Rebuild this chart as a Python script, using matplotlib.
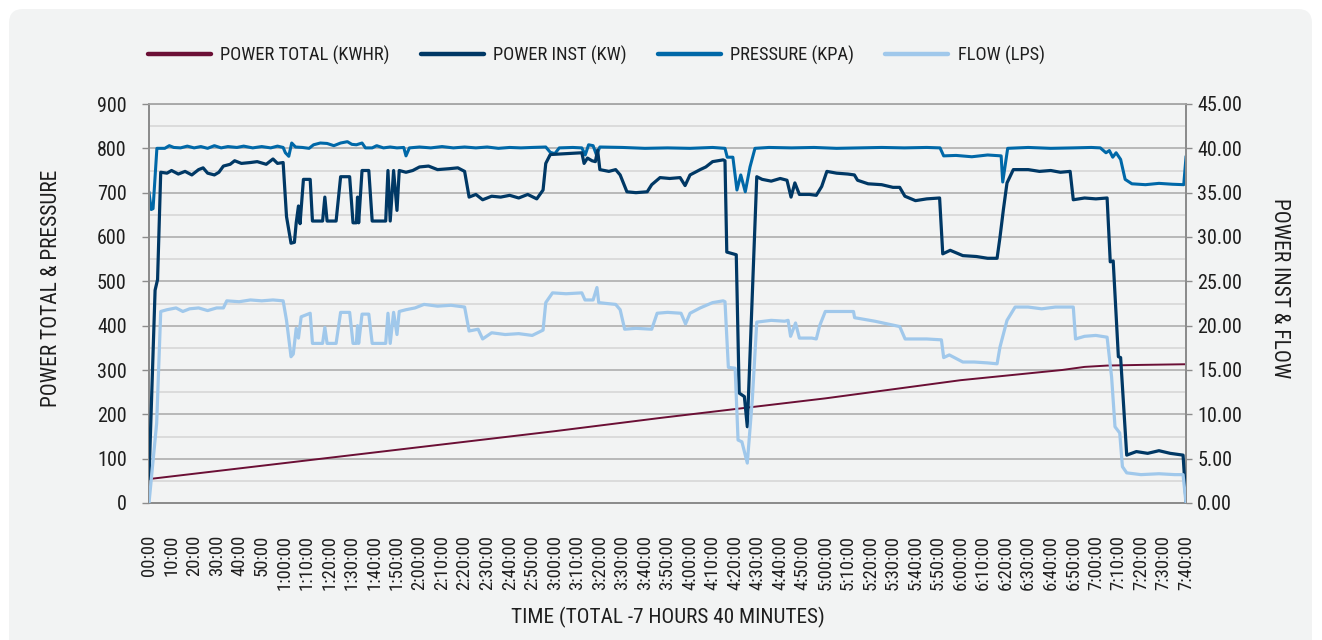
import numpy as np
import matplotlib
matplotlib.use("Agg")
import matplotlib.pyplot as plt
from matplotlib import font_manager
from matplotlib.patches import FancyBboxPatch
from matplotlib.lines import Line2D
from matplotlib.transforms import IdentityTransform

# pick a condensed face if one is installed
names = {f.name for f in font_manager.fontManager.ttflist}
FONT = "DejaVu Sans"
for cand in ["Roboto Condensed", "Liberation Sans Narrow", "Open Sans Condensed"]:
    if cand in names:
        FONT = cand
        break
plt.rcParams["font.family"] = [FONT, "DejaVu Sans"]
if FONT == "DejaVu Sans":
    plt.rcParams["font.stretch"] = "condensed"

TXT = "#1e1e1e"

# ---- data (time in minutes from start) ----
time_ticks = list(range(0, 461, 10))
time_labels = ["00:00", "10:00", "20:00", "30:00", "40:00", "50:00",
               "1:00:00", "1:10:00", "1:20:00", "1:30:00", "1:40:00", "1:50:00",
               "2:00:00", "2:10:00", "2:20:00", "2:30:00", "2:40:00", "2:50:00",
               "3:00:00", "3:10:00", "3:20:00", "3:30:00", "3:40:00", "3:50:00",
               "4:00:00", "4:10:00", "4:20:00", "4:30:00", "4:40:00", "4:50:00",
               "5:00:00", "5:10:00", "5:20:00", "5:30:00", "5:40:00", "5:50:00",
               "6:00:00", "6:10:00", "6:20:00", "6:30:00", "6:40:00", "6:50:00",
               "7:00:00", "7:10:00", "7:20:00", "7:30:00", "7:40:00"]

# power total (kWh), left axis
power_total = [(0, 54), (60, 90), (120, 126), (180, 162), (227, 192), (300, 236),
               (360, 277), (405, 300), (415, 307), (425, 310), (440, 311.5), (460, 313)]

# pressure (kPa), left axis
pressure = [(0, 700), (1.0, 662), (1.8, 664), (3.5, 800), (7, 800), (9, 806), (11, 802),
            (14, 801), (17, 805), (20, 801), (23, 804), (26, 800), (29, 806), (32, 801),
            (35, 804), (39, 802), (42, 805), (46, 801), (50, 804), (54, 801), (57, 805),
            (59.5, 802), (60.5, 790), (62, 782), (63.3, 812), (65, 803), (68, 802), (71, 800),
            (73, 808), (76, 812), (79, 811), (82, 806), (85, 812), (88, 815), (90, 809),
            (92, 808), (94.5, 812), (96, 801), (99, 801), (101, 806), (104, 801), (107, 803),
            (110, 801), (113, 802), (114, 783), (115.5, 801), (120, 803), (125, 801),
            (130, 804), (135, 801), (140, 803), (145, 801), (150, 803), (155, 800),
            (160, 802), (165, 801), (170, 802), (176, 803), (178, 791), (180, 788),
            (182, 801), (188, 802), (192, 801), (193.5, 785), (195, 808), (197, 806),
            (198.5, 785), (200, 803), (210, 802), (220, 800), (230, 801), (240, 800),
            (250, 802), (255.5, 800), (256.5, 780), (259, 780), (260.8, 706), (262.5, 740),
            (264.5, 702), (266.6, 758), (268.8, 800), (275, 802), (285, 801), (295, 802),
            (305, 800), (315, 801), (325, 802), (335, 801), (345, 802), (350.9, 801),
            (352.5, 783), (358, 784), (365, 781), (372, 785), (378, 783), (378.7, 724),
            (380.9, 800), (390, 802), (400, 800), (410, 801), (418, 802), (422, 801),
            (424.5, 790), (426, 795), (427.5, 780), (429, 790), (431, 775), (433, 730),
            (436, 720), (442, 718), (448, 721), (454, 719), (459, 718), (460, 780)]

# power inst (kW), right axis
power_inst = [(0, 2.75), (2.7, 24.0), (3.8, 25.2), (5.2, 37.3), (8, 37.2), (10, 37.5),
              (13, 37.1), (16, 37.4), (19, 37.0), (22, 37.6), (24, 37.8), (26, 37.2),
              (29, 37.0), (31, 37.3), (33, 38.0), (36, 38.2), (38, 38.6), (41, 38.3),
              (45, 38.4), (48, 38.5), (52, 38.2), (55, 38.8), (57, 38.3), (59.5, 38.4),
              (61, 32.3), (63, 29.3), (64.5, 29.4), (65.3, 31.6), (66.3, 33.5), (67, 31.5),
              (68.5, 36.5), (71.5, 36.5), (72.5, 31.8), (77, 31.8), (78, 34.5), (79, 31.8),
              (83, 31.8), (85, 36.8), (89, 36.8), (90.5, 31.6), (92, 31.6), (92.5, 34.5),
              (93, 31.6), (94.5, 37.5), (97.5, 37.5), (99, 31.8), (105, 31.8), (106, 37.5),
              (107, 31.8), (108.5, 37.5), (110, 33.0), (111, 37.5), (114, 37.3), (117, 37.5),
              (120, 37.9), (124, 38.0), (128, 37.6), (133, 37.7), (137, 37.8), (140, 37.4),
              (142, 34.5), (145, 34.8), (148, 34.2), (152, 34.6), (156, 34.5), (160, 34.7),
              (164, 34.4), (168, 34.8), (172, 34.3), (174.8, 35.3), (176, 38.3), (178, 39.3),
              (185, 39.4), (192, 39.5), (193, 38.3), (194.5, 38.9), (196.5, 38.6), (198, 38.5),
              (199, 39.8), (200, 37.6), (204, 37.4), (207, 37.6), (209, 37.0), (212, 35.1),
              (216, 35.0), (221, 35.1), (223, 35.9), (226.7, 36.7), (231, 36.6), (235.6, 36.7),
              (237.8, 35.8), (240, 37.0), (244.5, 37.6), (247, 37.9), (250, 38.5),
              (254.7, 38.7), (255.5, 38.6), (256.3, 28.3), (260.5, 28.0), (261.8, 12.4),
              (264.1, 12.0), (265.4, 8.6), (269.6, 36.8), (272, 36.5), (276, 36.3), (280, 36.6),
              (283, 36.4), (284.8, 34.5), (286.5, 36.1), (288.5, 34.8), (293, 34.8), (296, 34.7),
              (298.4, 35.7), (300.7, 37.4), (305, 37.2), (310, 37.1), (312.9, 37.0),
              (314.3, 36.4), (319, 36.0), (325, 35.9), (330, 35.6), (333, 35.6), (335.3, 34.6),
              (340, 34.1), (345, 34.3), (350.7, 34.4), (352.1, 28.1), (355.4, 28.5),
              (361, 27.9), (367, 27.8), (372, 27.6), (376.2, 27.6), (377.5, 30.0), (379, 33.1),
              (380.6, 36.1), (383.4, 37.6), (390, 37.6), (395, 37.4), (400, 37.5), (404.3, 37.3),
              (408.6, 37.4), (410, 34.2), (415, 34.4), (420, 34.3), (425, 34.4),
              (426.4, 27.2), (427.7, 27.3), (430, 16.5), (431, 16.4), (433.7, 5.4), (438, 5.8),
              (443, 5.6), (448, 5.9), (453, 5.6), (458.7, 5.4), (460, 0.2)]

# flow (LPS), right axis
flow = [(0, 0.0), (3.4, 9.0), (5.2, 21.6), (8, 21.8), (12, 22.0), (15, 21.6), (18, 21.9),
        (22, 22.0), (26, 21.7), (30, 22.0), (33, 22.0), (34.5, 22.8), (40, 22.7), (45, 22.9),
        (50, 22.8), (55, 22.9), (59.5, 22.8), (61, 20.6), (63, 16.5), (64, 16.8),
        (65.3, 19.7), (66.3, 18.6), (67.5, 21.0), (71.5, 21.4), (72.5, 18.0), (77, 18.0),
        (78, 19.8), (79, 18.0), (83, 18.0), (85, 21.5), (89, 21.5), (90.5, 18.0), (92, 18.0),
        (92.5, 20.0), (93, 18.0), (94.5, 21.3), (97.5, 21.3), (99, 18.0), (105, 18.0),
        (106, 21.4), (107, 18.0), (108.5, 21.5), (110, 19.0), (111, 21.6), (114, 21.8),
        (118, 22.0), (122, 22.4), (128, 22.2), (134, 22.3), (140, 22.1), (142, 19.4),
        (146, 19.6), (148, 18.5), (152, 19.2), (158, 19.0), (164, 19.1), (170, 18.9),
        (174, 19.4), (174.8, 19.5), (176, 22.6), (179, 23.7), (185, 23.6), (192, 23.7),
        (193.4, 22.9), (197, 22.9), (198.7, 24.3), (199.5, 22.6), (203, 22.5), (207, 22.4),
        (209, 21.8), (211, 19.6), (216, 19.7), (223, 19.6), (225.4, 21.4), (230, 21.5),
        (236, 21.4), (238, 20.2), (240, 21.4), (244.5, 22.0), (250, 22.6), (254.7, 22.8),
        (255.5, 22.7), (257, 15.3), (260, 15.2), (261.3, 7.1), (263, 6.9), (265.4, 4.5),
        (267.6, 11.6), (269.6, 20.4), (276, 20.6), (282, 20.5), (283.5, 20.6), (284.6, 18.8),
        (286.8, 20.3), (288.5, 18.6), (294, 18.6), (296, 18.5), (297.5, 20.0), (300, 21.6),
        (310, 21.6), (312.5, 21.6), (313, 20.9), (322, 20.5), (333, 19.9), (335.4, 18.5),
        (345, 18.5), (351.5, 18.4), (352.5, 16.4), (355, 16.7), (361, 15.9), (366, 15.9),
        (372, 15.8), (376.2, 15.7), (377.5, 17.6), (380.6, 20.6), (384.2, 22.1), (390, 22.1),
        (396, 21.9), (402, 22.1), (410, 22.1), (411, 18.5), (415, 18.8), (420, 18.9),
        (425, 18.7), (427, 14.2), (428.5, 8.6), (430.6, 7.9), (431.8, 4.1), (433.7, 3.4),
        (440, 3.2), (448, 3.3), (455, 3.2), (458.7, 3.2), (460, 0.0)]

series_names = ["POWER TOTAL (KWHR)", "POWER INST (KW)", "PRESSURE (KPA)", "FLOW (LPS)"]
series_colors = ["#6b0f35", "#003865", "#0068a8", "#a0c8eb"]

# ---- figure ----
W, H = 1322, 640
fig = plt.figure(figsize=(W / 100, H / 100), dpi=100, facecolor="white")
panel = FancyBboxPatch((9, -30), 1303, H - 9 + 30, boxstyle="round,pad=0,rounding_size=14",
                       transform=IdentityTransform(), facecolor="#f2f3f3", edgecolor="none",
                       zorder=-10)
fig.patches.append(panel)

x0, x1, y_top, y_bot = 149, 1186, 104, 503
ax = fig.add_axes([x0 / W, 1 - y_bot / H, (x1 - x0) / W, (y_bot - y_top) / H])
ax.set_facecolor("none")
ax2 = ax.twinx()
ax2.set_facecolor("none")

def xy(pts):
    a = np.array(pts, dtype=float)
    return a[:, 0], a[:, 1]

t, v = xy(power_total)
ax.plot(t, v, color=series_colors[0], lw=1.4, zorder=3)
t, v = xy(pressure)
ax.plot(t, v, color=series_colors[2], lw=2.2, zorder=3)
t, v = xy(power_inst)
ax2.plot(t, v, color=series_colors[1], lw=2.3, zorder=3)
t, v = xy(flow)
ax2.plot(t, v, color=series_colors[3], lw=2.3, zorder=4)

ax.set_xlim(0, 460)
ax.set_ylim(0, 900)
ax2.set_ylim(0, 45)

ax.set_yticks(range(0, 901, 100))
ax.set_yticks(range(50, 900, 100), minor=True)
ax.grid(True, which="major", axis="y", color="#a8a8a8", lw=1.1)
ax.grid(True, which="minor", axis="y", color="#d4d4d4", lw=1.1)
ax.set_axisbelow(True)
ax.tick_params(axis="y", which="major", length=5, width=1, color="#8c8c8c",
               labelsize=14.5, labelcolor=TXT, pad=11)
ax.tick_params(axis="y", which="minor", length=0)

ax2.set_yticks(range(0, 46, 5))
ax2.set_yticklabels([f"{v:.2f}" for v in range(0, 46, 5)])
ax2.tick_params(axis="y", length=4, width=1, color="#8c8c8c",
                labelsize=14.5, labelcolor=TXT, pad=4)

ax.set_xticks(time_ticks)
ax.set_xticklabels(time_labels, rotation=90, va="top", ha="center")
ax.tick_params(axis="x", length=0, labelsize=13.5, labelcolor=TXT, pad=23)

for a in (ax, ax2):
    for side in ("left", "right", "bottom"):
        a.spines[side].set_color("#8c8c8c")
        a.spines[side].set_linewidth(1.4)
    a.spines["top"].set_color("#a8a8a8")
    a.spines["top"].set_linewidth(1.1)

fig.text(52 / W, 1 - 288 / H, "POWER TOTAL & PRESSURE", rotation=90, ha="center",
         va="center", fontsize=15.5, color=TXT)
fig.text(1279 / W, 1 - 288 / H, "POWER INST & FLOW", rotation=-90, ha="center",
         va="center", fontsize=15.5, color=TXT)
fig.text(668 / W, 1 - 617 / H, "TIME (TOTAL -7 HOURS 40 MINUTES)", ha="center",
         va="center", fontsize=15.3, color=TXT)

handles = [Line2D([], [], color=c, lw=3.2, solid_capstyle="round") for c in series_colors]
fig.legend(handles, series_names, loc="center left", bbox_to_anchor=(148 / W, 1 - 55 / H),
           ncol=4, frameon=False, fontsize=13.3, handlelength=3.4, handletextpad=0.5,
           columnspacing=1.7, borderpad=0, borderaxespad=0, labelcolor=TXT)

fig.savefig("out.png", dpi=100, facecolor="white")
